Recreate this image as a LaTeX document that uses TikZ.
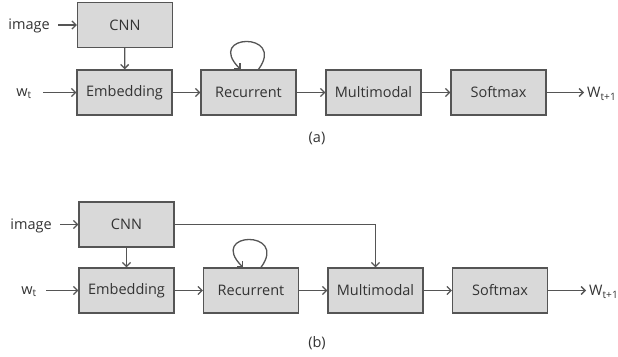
\documentclass[tikz,border=0pt]{standalone}
\usepackage{fontspec}
\setmainfont{Open Sans}
\usetikzlibrary{arrows.meta}
\definecolor{boxfill}{HTML}{D9D9D9}
\definecolor{edge}{HTML}{555555}
\definecolor{ink}{HTML}{333333}
\tikzset{
  blk/.style={draw=edge, line width=1.3pt, fill=boxfill, minimum width=95pt, minimum height=45pt, inner sep=0pt, font=\fontsize{14.5}{16}\selectfont, text=ink},
  lbl/.style={font=\fontsize{14.5}{16}\selectfont, text=ink, inner sep=0pt},
  flow/.style={draw=edge, line width=1.3pt, -{Straight Barb[length=4pt,width=8pt]}},
  selfloop/.style={flow, to path={.. controls +(28,-38) and +(-36,-36) .. (\tikztotarget)}}
}
\begin{document}
\begin{tikzpicture}[x=1pt,y=-1pt]
\useasboundingbox (0,0) rectangle (618,356);
% ---- variant (a) ----
\node[blk] (cnnA) at (125,25) {CNN};
\node[blk] (embA) at (124.5,92.5) {Embedding};
\node[blk] (recA) at (248.5,92.5) {Recurrent};
\node[blk] (mmA) at (373.5,92.5) {Multimodal};
\node[blk] (smA) at (498.5,92.5) {Softmax};
\node[lbl] (imgA) at (29,26) {image};
\node[lbl] (wA) at (24,94) {w\textsubscript{t}};
\node[lbl, anchor=west] (outA) at (587,94) {W\textsubscript{t+1}};
\node[lbl] (capA) at (317,138) {(a)};
\coordinate (imgAend) at (58,25);
\coordinate (wAend) at (43,92.5);
\draw[flow] (imgAend) -- (cnnA.west);
\draw[flow] (cnnA) -- (embA);
\draw[flow] (wAend) -- (embA.west);
\draw[flow] (embA) -- (recA);
\draw[flow] (recA) -- (mmA);
\draw[flow] (mmA) -- (smA);
\draw[flow] (smA.east) -- ([xshift=-3pt]outA.west |- smA.east);
\draw[selfloop] ([xshift=10pt]recA.north) to ([xshift=-8pt]recA.north);
% ---- variant (b) ----
\node[blk] (cnnB) at (126.5,224.5) {CNN};
\node[blk] (embB) at (126.5,290.5) {Embedding};
\node[blk] (recB) at (251,290.5) {Recurrent};
\node[blk] (mmB) at (375.5,290.5) {Multimodal};
\node[blk] (smB) at (500,290.5) {Softmax};
\node[lbl] (imgB) at (31,226) {image};
\node[lbl] (wB) at (29,292) {w\textsubscript{t}};
\node[lbl, anchor=west] (outB) at (589,292) {W\textsubscript{t+1}};
\node[lbl] (capB) at (317,343) {(b)};
\coordinate (imgBend) at (60,224.5);
\coordinate (wBend) at (46,290.5);
\draw[flow] (imgBend) -- (cnnB.west);
\draw[flow] (cnnB) -- (embB);
\draw[flow] (wBend) -- (embB.west);
\draw[flow] (embB) -- (recB);
\draw[flow] (recB) -- (mmB);
\draw[flow] (mmB) -- (smB);
\draw[flow] (smB.east) -- ([xshift=-3pt]outB.west |- smB.east);
\draw[selfloop] ([xshift=10pt]recB.north) to ([xshift=-8pt]recB.north);
\draw[flow] (cnnB.east) -| (mmB.north);
\end{tikzpicture}
\end{document}
